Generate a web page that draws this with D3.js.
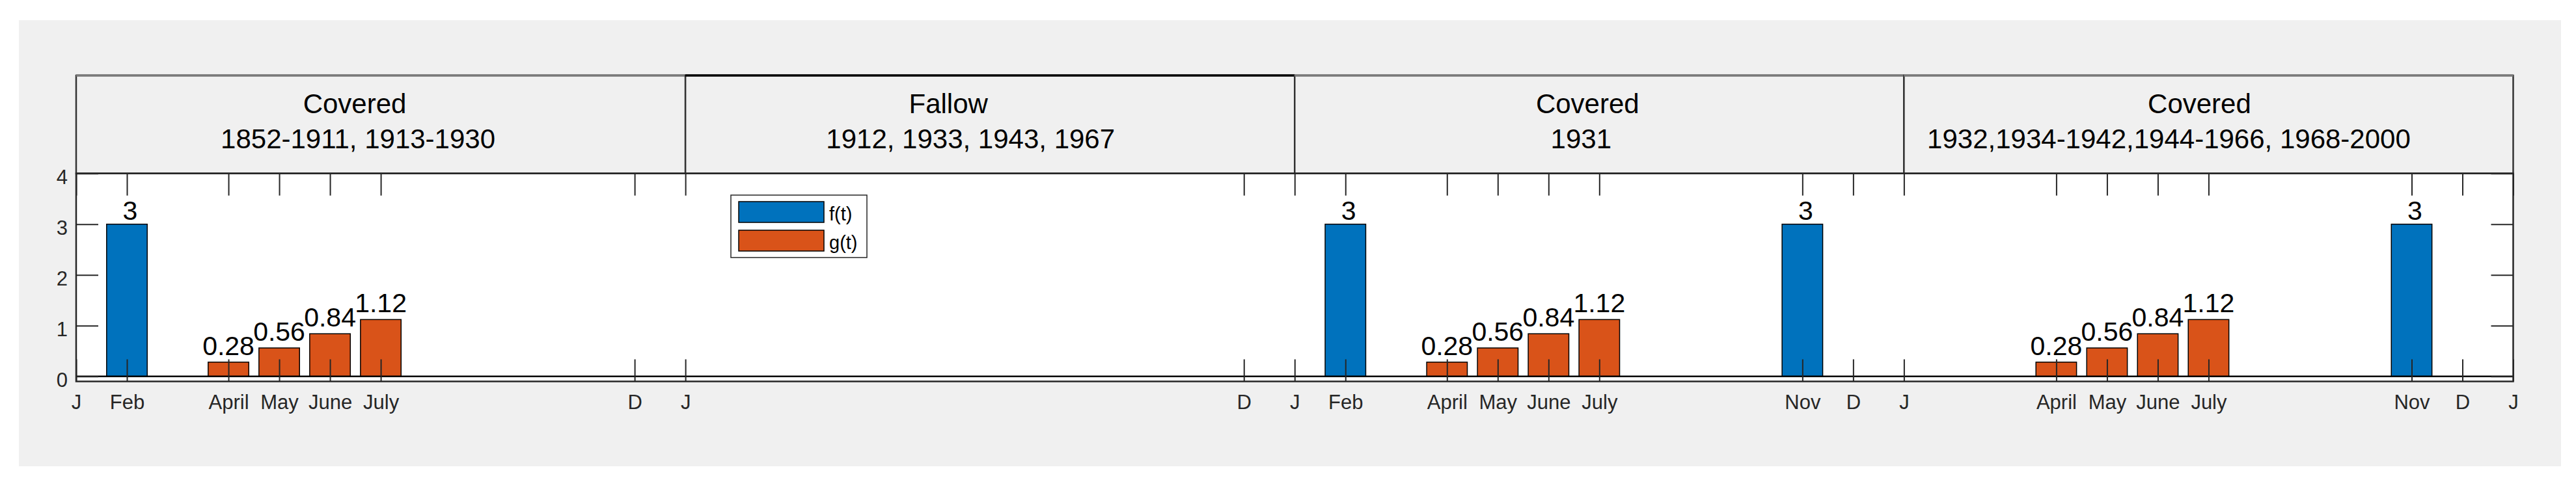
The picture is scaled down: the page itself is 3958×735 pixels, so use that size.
<!DOCTYPE html>
<html>
<head>
<meta charset="utf-8">
<script src="https://cdn.jsdelivr.net/npm/d3@7"></script>
<style>
  body { margin: 0; background: #ffffff; }
  text { font-family: "Liberation Sans", Arial, sans-serif; }
</style>
</head>
<body>
<div id="container"></div>
<script>
let w = 3958;
let h = 735;

// ---- data ----
let tickMonths = [1, 2, 4, 5, 6, 7, 12, 13, 24, 25, 26, 28, 29, 30, 31, 35, 36, 37, 40, 41, 42, 43, 47, 48, 49];
let tickLabels = ["J", "Feb", "April", "May", "June", "July", "D", "J", "D", "J", "Feb", "April", "May", "June", "July", "Nov", "D", "J", "April", "May", "June", "July", "Nov", "D", "J"];
let yTicks = [0, 1, 2, 3, 4];

let fMonths = [2, 26, 35, 47];
let fValues = [3, 3, 3, 3];
let gMonths = [4, 5, 6, 7, 28, 29, 30, 31, 40, 41, 42, 43];
let gValues = [0.28, 0.56, 0.84, 1.12, 0.28, 0.56, 0.84, 1.12, 0.28, 0.56, 0.84, 1.12];

let seriesNames = ["f(t)", "g(t)"];
let periodNames = ["Covered", "Fallow", "Covered", "Covered"];
let periodYears = ["1852-1911, 1913-1930", "1912, 1933, 1943, 1967", "1931", "1932,1934-1942,1944-1966, 1968-2000"];
let periodStart = [1, 13, 25, 37];
let periodEnd = [13, 25, 37, 49];

// ---- layout ----
let colors = ["#0072BD", "#D95319"];
let headerShift = [[-40, -35], [-64, -30], [-18, -28], [-14, -61]];
let headerTopEdge = ["#7a7a7a", "#000000", "#7a7a7a", "#7a7a7a"];

let x = d3.scaleLinear().domain([1, 49]).range([117, 3861.5]);
let y = d3.scaleLinear().domain([-0.1, 4]).range([586.5, 266.7]);
let bw = (x(2) - x(1)) * 0.8;

let viz = d3.select("#container")
              .append("svg")
                .attr("width", w)
                .attr("height", h)
                .style("display", "block")
;

// figure panel
viz.append("rect")
    .attr("x", 29).attr("y", 31)
    .attr("width", 3906).attr("height", 686)
    .attr("fill", "#f0f0f0")
;

// axes background
viz.append("rect")
    .attr("x", x(1)).attr("y", y(4))
    .attr("width", x(49) - x(1)).attr("height", y(-0.1) - y(4))
    .attr("fill", "white")
;

// header boxes
let headers = viz.selectAll(".header").data(periodNames).enter()
                  .append("g").attr("class", "header");

headers.append("rect")
    .attr("x", (d, i) => x(periodStart[i]))
    .attr("y", 116)
    .attr("width", (d, i) => x(periodEnd[i]) - x(periodStart[i]))
    .attr("height", y(4) - 116)
    .attr("fill", "#f0f0f0")
    .attr("stroke", "#333")
    .attr("stroke-width", 2.5)
;
headers.append("line")
    .attr("x1", (d, i) => x(periodStart[i]))
    .attr("x2", (d, i) => x(periodEnd[i]))
    .attr("y1", 116).attr("y2", 116)
    .attr("stroke", (d, i) => headerTopEdge[i])
    .attr("stroke-width", 3.5)
;
headers.append("text")
    .text(d => d)
    .attr("x", (d, i) => (x(periodStart[i]) + x(periodEnd[i])) / 2 + headerShift[i][0])
    .attr("y", 174)
    .attr("text-anchor", "middle")
    .style("font-size", "42px")
    .attr("fill", "#000")
;
headers.append("text")
    .text((d, i) => periodYears[i])
    .attr("x", (d, i) => (x(periodStart[i]) + x(periodEnd[i])) / 2 + headerShift[i][1])
    .attr("y", 228)
    .attr("text-anchor", "middle")
    .style("font-size", "42px")
    .attr("fill", "#000")
;

// bars
let fBars = viz.selectAll(".fbar").data(fValues).enter().append("g").attr("class", "fbar");
fBars.append("rect")
    .attr("x", (d, i) => x(fMonths[i]) - bw / 2)
    .attr("y", d => y(d))
    .attr("width", bw)
    .attr("height", d => y(0) - y(d))
    .attr("fill", colors[0])
    .attr("stroke", "black")
    .attr("stroke-width", 1.5)
;
let gBars = viz.selectAll(".gbar").data(gValues).enter().append("g").attr("class", "gbar");
gBars.append("rect")
    .attr("x", (d, i) => x(gMonths[i]) - bw / 2)
    .attr("y", d => y(d))
    .attr("width", bw)
    .attr("height", d => y(0) - y(d))
    .attr("fill", colors[1])
    .attr("stroke", "black")
    .attr("stroke-width", 1.5)
;

// value labels
fBars.append("text")
    .text(d => d)
    .attr("x", (d, i) => x(fMonths[i]) + 5)
    .attr("y", d => y(d) - 7)
    .attr("text-anchor", "middle")
    .style("font-size", "41px")
;
gBars.append("text")
    .text(d => d)
    .attr("x", (d, i) => x(gMonths[i]))
    .attr("y", d => y(d) - 11)
    .attr("text-anchor", "middle")
    .style("font-size", "41px")
;

// baseline at 0
viz.append("line")
    .attr("x1", x(1)).attr("x2", x(49))
    .attr("y1", y(0)).attr("y2", y(0))
    .attr("stroke", "black")
    .attr("stroke-width", 2.5)
;

// axes (MATLAB style ticks pointing inward)
let xAxis = d3.axisBottom(x)
                .tickValues(tickMonths)
                .tickFormat((d, i) => tickLabels[i])
                .tickSizeInner(-34).tickSizeOuter(0).tickPadding(20);
let gx = viz.append("g").attr("transform", "translate(0," + y(-0.1) + ")").call(xAxis);

let gxTop = viz.append("g").attr("transform", "translate(0," + y(4) + ")")
                .call(d3.axisTop(x).tickValues(tickMonths).tickFormat("").tickSizeInner(-34).tickSizeOuter(0));

let yAxis = d3.axisLeft(y).tickValues(yTicks).tickFormat(d3.format("d"))
                .tickSizeInner(-34).tickSizeOuter(0).tickPadding(13);
let gy = viz.append("g").attr("transform", "translate(" + x(1) + ",0)").call(yAxis);

let gyRight = viz.append("g").attr("transform", "translate(" + x(49) + ",0)")
                .call(d3.axisRight(y).tickValues(yTicks).tickFormat("").tickSizeInner(-34).tickSizeOuter(0));

[gx, gxTop, gy, gyRight].forEach(g => {
  g.select(".domain").remove();
  g.selectAll(".tick line").attr("stroke", "#262626").attr("stroke-width", 2);
  g.selectAll(".tick text")
    .attr("fill", "#262626")
    .style("font-size", "31px")
    .style("font-family", "'Liberation Sans', Arial, sans-serif");
});
gy.selectAll(".tick text").attr("dy", "0.52em");

// axes box
viz.append("rect")
    .attr("x", x(1)).attr("y", y(4))
    .attr("width", x(49) - x(1)).attr("height", y(-0.1) - y(4))
    .attr("fill", "none")
    .attr("stroke", "#262626")
    .attr("stroke-width", 2.5)
;

// legend
let legend = viz.append("g").attr("transform", "translate(1123,300)");
legend.append("rect")
    .attr("width", 209).attr("height", 96)
    .attr("fill", "white")
    .attr("stroke", "#262626")
    .attr("stroke-width", 1.5)
;
let items = legend.selectAll(".item").data(seriesNames).enter()
                .append("g").attr("class", "item")
                .attr("transform", (d, i) => "translate(12," + (10 + i * 44) + ")");
items.append("rect")
    .attr("width", 131).attr("height", 32)
    .attr("fill", (d, i) => colors[i])
    .attr("stroke", "black")
    .attr("stroke-width", 1.5)
;
items.append("text")
    .text(d => d)
    .attr("x", 139)
    .attr("y", 29)
    .style("font-size", "29px")
    .attr("fill", "#000")
;
</script>
</body>
</html>
